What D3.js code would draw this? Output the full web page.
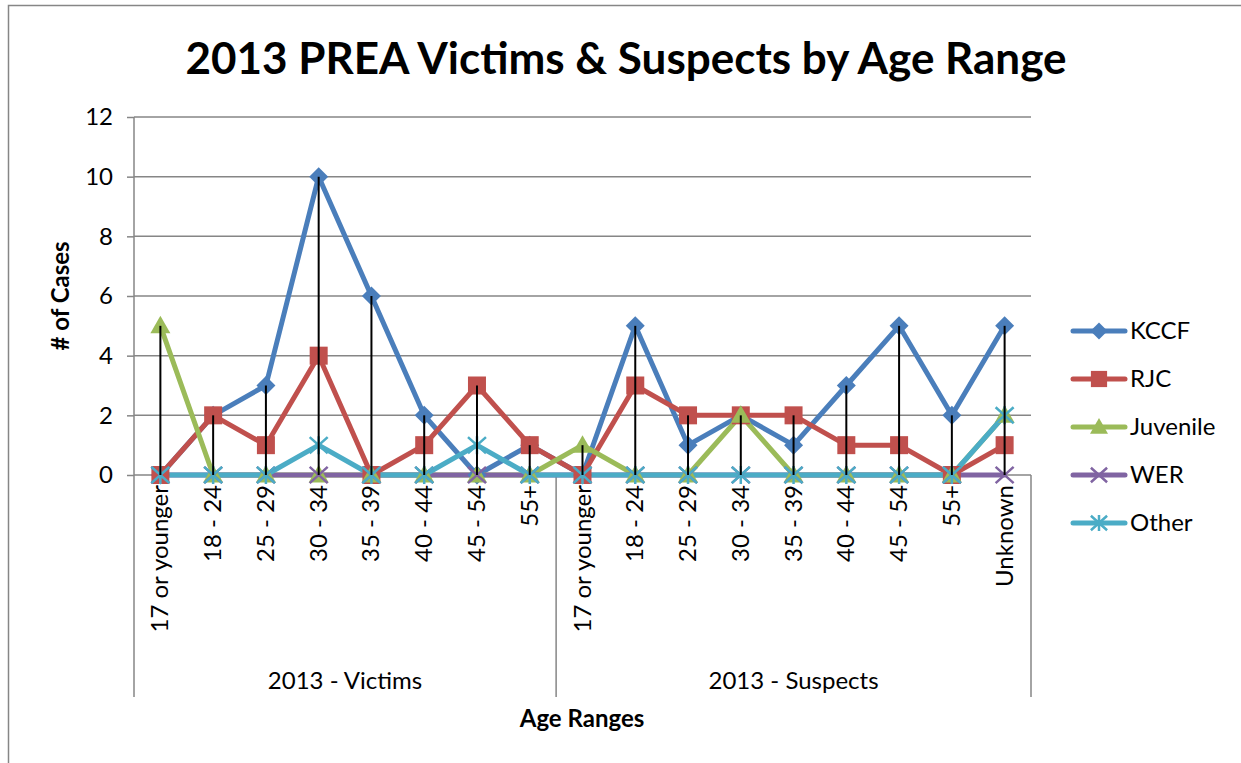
<!DOCTYPE html>
<html><head><meta charset="utf-8">
<script src="https://cdn.jsdelivr.net/npm/d3@7"></script>
<style>
html,body{margin:0;padding:0;background:#fff;}
svg{display:block;font-family:Lato,"Open Sans",sans-serif;}
</style></head>
<body>
<svg id="c" width="1241" height="763"></svg>
<script>
const categories = ["17 or younger","18 - 24","25 - 29","30 - 34","35 - 39","40 - 44","45 - 54","55+",
  "17 or younger","18 - 24","25 - 29","30 - 34","35 - 39","40 - 44","45 - 54","55+","Unknown"];
const groups = ["2013 - Victims","2013 - Suspects"];
const groupSizes = [8, 9];
const seriesNames = ["KCCF","RJC","Juvenile","WER","Other"];
const kccf     = [0,2,3,10,6,2,0,1, 0,5,1,2,1,3,5,2,5];
const rjc      = [0,2,1,4,0,1,3,1, 0,3,2,2,2,1,1,0,1];
const juvenile = [5,0,0,0,0,0,0,0, 1,0,0,2,0,0,0,0,2];
const wer      = [0,0,0,0,0,0,0,0, 0,0,0,0,0,0,0,0,0];
const other    = [0,0,0,1,0,0,1,0, 0,0,0,0,0,0,0,0,2];
const yTicks = [0,2,4,6,8,10,12];

const seriesData = [kccf, rjc, juvenile, wer, other];
const colors = ["#4A7EBB","#C0504D","#9BBB59","#8064A2","#4BACC6"];
const markers = ["diamond","square","triangle","x","star"];

const svg = d3.select("#c");
const L = 134, R = 1031, T = 117, B = 475, AX_BOTTOM = 697;
const FS = 24;

// outer frame
svg.append("rect").attr("x",8.5).attr("y",5.5).attr("width",1240).attr("height",780)
  .attr("fill","none").attr("stroke","#868686").attr("stroke-width",1.5);

const idx = categories.map((d,i)=>i);
const x = d3.scaleBand().domain(idx).range([L,R]);
const y = d3.scaleLinear().domain([0,12]).range([B,T]);
const cx = i => x(i) + x.bandwidth()/2;

// gridlines
svg.append("g").selectAll("line").data(yTicks.filter(t=>t>0)).join("line")
  .attr("x1",L).attr("x2",R).attr("y1",d=>y(d)).attr("y2",d=>y(d))
  .attr("stroke","#868686").attr("stroke-width",1.5);

// y axis
const yAxis = d3.axisLeft(y).tickValues(yTicks).tickSize(7).tickPadding(14);
const gy = svg.append("g").attr("transform",`translate(${L},0)`).call(yAxis);
gy.select(".domain").remove();
gy.selectAll(".tick line").attr("stroke","#868686").attr("stroke-width",1.5);
gy.selectAll(".tick text").attr("font-size",FS).attr("fill","#000").attr("font-family","Lato");
svg.append("line").attr("x1",L).attr("x2",L).attr("y1",T).attr("y2",AX_BOTTOM)
  .attr("stroke","#868686").attr("stroke-width",1.5);

// x axis line
svg.append("line").attr("x1",L).attr("x2",R).attr("y1",B).attr("y2",B)
  .attr("stroke","#868686").attr("stroke-width",1.5);
// group separators
let acc = 0;
const bounds = [0];
groupSizes.forEach(s=>{acc+=s; bounds.push(acc);});
bounds.slice(1).forEach(b=>{
  const xx = b===categories.length ? R : x(b);
  svg.append("line").attr("x1",xx).attr("x2",xx).attr("y1",B).attr("y2",AX_BOTTOM)
    .attr("stroke","#868686").attr("stroke-width",1.5);
});
// category labels
svg.append("g").selectAll("text").data(idx).join("text")
  .attr("transform",i=>`translate(${cx(i)+8},485) rotate(-90)`)
  .attr("text-anchor","end").attr("font-size",FS).attr("fill","#000")
  .text(i=>categories[i]);
// group labels
groups.forEach((g,gi)=>{
  const x0 = x(bounds[gi]);
  const x1 = bounds[gi+1]===categories.length ? R : x(bounds[gi+1]);
  svg.append("text").attr("x",(x0+x1)/2).attr("y",689).attr("text-anchor","middle")
    .attr("font-size",FS).attr("fill","#000").text(g);
});

// series lines
const line = d3.line().x((d,i)=>cx(i)).y(d=>y(d));
seriesData.forEach((s,si)=>{
  svg.append("path").datum(s).attr("d",line).attr("fill","none")
    .attr("stroke",colors[si]).attr("stroke-width",5).attr("stroke-linejoin","round").attr("stroke-linecap","round");
});

function drawMarker(g, type, color, px, py, scale){
  const k = scale||1;
  if(type==="diamond"){
    const r=9.5*k;
    g.append("path").attr("d",`M${px},${py-r}L${px+r},${py}L${px},${py+r}L${px-r},${py}Z`).attr("fill",color);
  } else if(type==="square"){
    const r=9*k;
    g.append("rect").attr("x",px-r).attr("y",py-r).attr("width",2*r).attr("height",2*r).attr("fill",color);
  } else if(type==="triangle"){
    const r=10*k;
    g.append("path").attr("d",`M${px},${py-r}L${px+r},${py+r*0.75}L${px-r},${py+r*0.75}Z`).attr("fill",color);
  } else if(type==="x"){
    const r=9*k;
    g.append("path").attr("d",`M${px-r},${py-r*0.9}L${px+r},${py+r*0.9}M${px-r},${py+r*0.9}L${px+r},${py-r*0.9}`)
      .attr("stroke",color).attr("stroke-width",2.5).attr("fill","none");
  } else if(type==="star"){
    const r=9*k;
    g.append("path").attr("d",`M${px-r},${py-r*0.9}L${px+r},${py+r*0.9}M${px-r},${py+r*0.9}L${px+r},${py-r*0.9}M${px},${py-r}L${px},${py+r}`)
      .attr("stroke",color).attr("stroke-width",2.5).attr("fill","none");
  }
}
// markers
seriesData.forEach((s,si)=>{
  const g = svg.append("g");
  s.forEach((v,i)=>drawMarker(g, markers[si], colors[si], cx(i), y(v)));
});

// high-low lines
svg.append("g").selectAll("line").data(idx).join("line")
  .attr("x1",cx).attr("x2",cx)
  .attr("y1",i=>y(d3.max(seriesData,s=>s[i])))
  .attr("y2",i=>y(d3.min(seriesData,s=>s[i])))
  .attr("stroke","#000").attr("stroke-width",2);

// title
svg.append("text").attr("x",626).attr("y",74).attr("text-anchor","middle")
  .attr("font-size",44).attr("font-weight","bold").attr("fill","#000")
  .text("2013 PREA Victims & Suspects by Age Range");
// axis titles
svg.append("text").attr("transform","translate(69,296) rotate(-90)").attr("text-anchor","middle")
  .attr("font-size",FS).attr("font-weight","bold").text("# of Cases");
svg.append("text").attr("x",582).attr("y",727).attr("text-anchor","middle")
  .attr("font-size",FS).attr("font-weight","bold").text("Age Ranges");

// legend
const lg = svg.append("g");
seriesNames.forEach((n,i)=>{
  const ly = 331 + i*48;
  lg.append("line").attr("x1",1073).attr("x2",1125).attr("y1",ly).attr("y2",ly)
    .attr("stroke",colors[i]).attr("stroke-width",5).attr("stroke-linecap","round");
  drawMarker(lg, markers[i], colors[i], 1099, ly, 0.9);
  lg.append("text").attr("x",1130).attr("y",ly+8).attr("font-size",FS).text(n);
});
</script>
</body></html>
